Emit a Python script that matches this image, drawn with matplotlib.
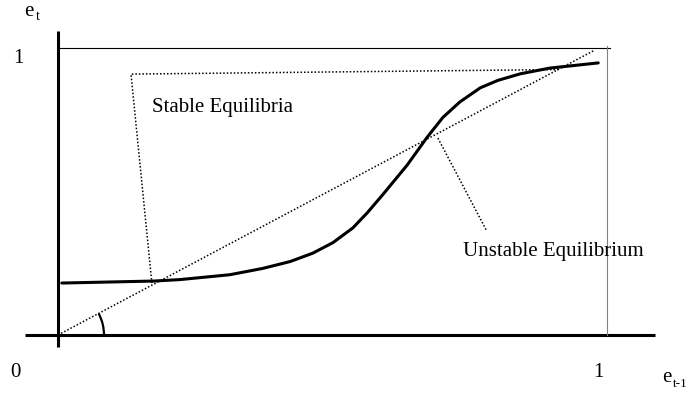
import numpy as np
import matplotlib
matplotlib.use('Agg')
import matplotlib.pyplot as plt
from matplotlib.patches import Arc

plt.rcParams['font.family'] = ['Liberation Serif', 'DejaVu Serif']

# S-shaped response curve e_t = f(e_{t-1})
curve_x = [0.007, 0.175, 0.222, 0.313, 0.373, 0.423, 0.464, 0.501, 0.537,
           0.563, 0.592, 0.636, 0.672, 0.701, 0.732, 0.769, 0.801,
           0.842, 0.896, 0.984]
curve_y = [0.181, 0.188, 0.193, 0.210, 0.232, 0.256, 0.285, 0.322, 0.373,
           0.425, 0.490, 0.592, 0.688, 0.758, 0.812, 0.861, 0.887,
           0.910, 0.930, 0.948]

# 45 degree line
diag_x = [0.0, 0.975]
diag_y = [0.0, 0.990]

# pointer lines to the equilibria
stable_x = [0.171, 0.133, 0.914]
stable_y = [0.181, 0.909, 0.925]
unstable_x = [0.692, 0.781]
unstable_y = [0.686, 0.362]

fig = plt.figure(figsize=(6.88, 3.94), dpi=100)
ax = fig.add_axes([0, 0, 1, 1])
ax.set_xlim(-0.1056, 1.1475)
ax.set_ylim(-0.2056, 1.1672)
ax.axis('off')

# axes and the unit box
ax.plot([0, 0], [-0.042, 1.059], color='black', lw=2.2, solid_capstyle='butt')
ax.plot([-0.060, 1.087], [0, 0], color='black', lw=2.2, solid_capstyle='butt')
ax.plot([0, 1.005], [1, 1], color='black', lw=0.8)
ax.plot([1, 1], [0, 1.007], color='#808080', lw=0.8)

dots = (0, (1, 1.3))
ax.plot(diag_x, diag_y, color='black', lw=1.1, linestyle=dots)
ax.plot(stable_x, stable_y, color='black', lw=1.1, linestyle=dots)
ax.plot(unstable_x, unstable_y, color='black', lw=1.1, linestyle=dots)
ax.plot(curve_x, curve_y, color='black', lw=2.2, solid_joinstyle='round',
        solid_capstyle='round')

# angle marker at the origin
r_px = 46
theta = np.degrees(np.arctan2(diag_y[1], diag_x[1]))
ax.add_patch(Arc((0, 0), 2 * r_px / 549, 2 * r_px / 287, theta1=0, theta2=theta,
                 color='black', lw=1.6))

fs = 15
ax.text(0.171, 0.777, 'Stable Equilibria', fontsize=fs, va='baseline')
ax.text(0.738, 0.275, 'Unstable Equilibrium', fontsize=fs, va='baseline')

ax.text(-0.082, 0.948, '1', fontsize=fs, va='baseline')
ax.text(-0.087, -0.146, '0', fontsize=fs, va='baseline')
ax.text(0.975, -0.146, '1', fontsize=fs, va='baseline')

ax.text(-0.062, 1.112, 'e', fontsize=fs, va='baseline')
ax.text(-0.040, 1.097, 't', fontsize=10, va='baseline')
ax.text(1.100, -0.164, 'e', fontsize=fs, va='baseline')
ax.text(1.120, -0.181, 't-1', fontsize=9.5, va='baseline')

fig.savefig('out.png', dpi=100)
